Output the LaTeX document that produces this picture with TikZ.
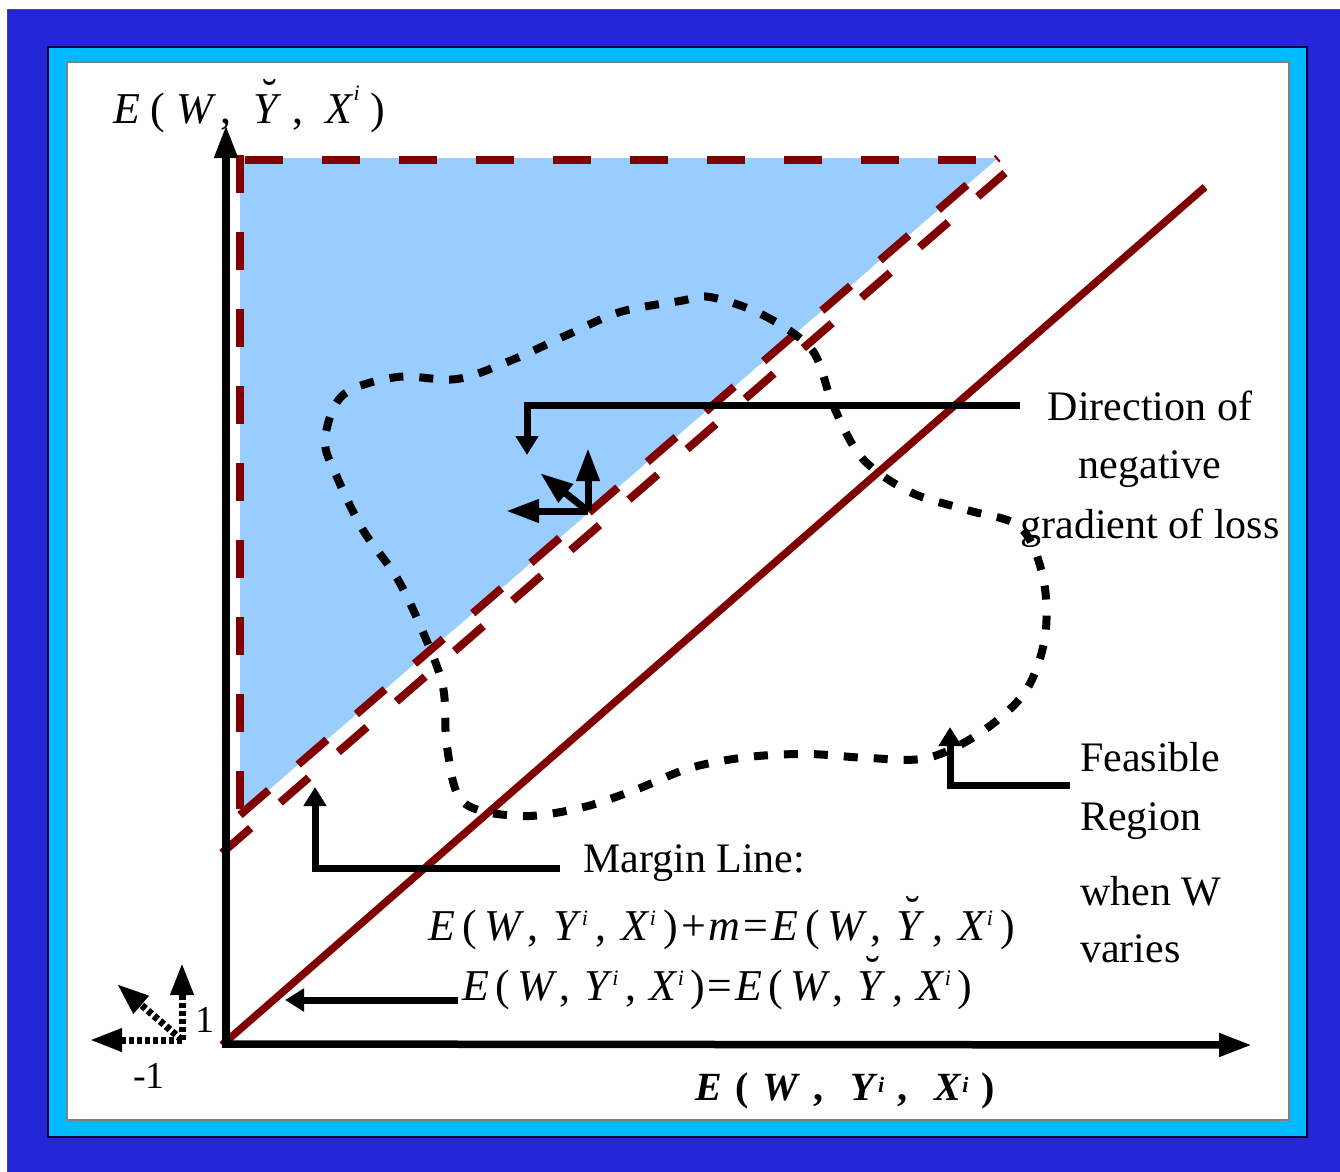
\documentclass[tikz,border=0pt]{standalone}
\usepackage{fontspec}
\setmainfont{Liberation Serif}
\usetikzlibrary{arrows.meta}
\definecolor{dkblue}{HTML}{2626D9}
\definecolor{cyanb}{HTML}{00BBFF}
\definecolor{fillblue}{HTML}{99CCFF}
\definecolor{dkred}{HTML}{800000}
\newcommand\brY{\ooalign{\textit{Y}\cr\hidewidth\raisebox{0.3em}{\kern0.08em\char"02D8}\hidewidth\cr}}
\newcommand\myi[1]{\raisebox{#1}{\fontsize{22}{22}\selectfont\textit{i}}}
\newcommand\gp{\hspace{0pt plus 1fil}}
\newcommand\Gp{\hspace{0pt plus 2fil}}
\newcommand\hp{\hspace{0pt plus 0.4fil}}
\begin{document}
\begin{tikzpicture}[x=1pt,y=-1pt,
  lbl/.style={inner sep=0pt,font=\fontsize{42}{50}\selectfont},
  flbl/.style={inner sep=0pt,font=\fontsize{44}{50}\selectfont},
  numlbl/.style={inner sep=0pt,font=\fontsize{38}{44}\selectfont},
  reddash/.style={draw=dkred,line width=8pt,dash pattern=on 38pt off 39pt},
  redline/.style={draw=dkred,line width=7.5pt},
  blob/.style={draw=black,line width=8pt,dash pattern=on 14pt off 16pt},
  axis/.style={draw=black,line width=7.5pt,-{Triangle[length=33pt,width=22pt]}},
  bigarr/.style={draw=black,line width=7pt,-{Triangle[length=33pt,width=22pt]}},
  smallarr/.style={draw=black,line width=7pt,-{Triangle[length=19pt,width=22pt]}},
  dotarr/.style={draw=black,line width=7pt,dash pattern=on 5pt off 3pt,-{Triangle[length=32pt,width=22pt]}}]
\useasboundingbox (0,0) rectangle (1340,1171);
\fill[white] (0,0) rectangle (1340,1171);
% frames
\filldraw[fill=dkblue,draw=black!70,line width=1pt] (7,9) rectangle (1342,1173);
\filldraw[fill=cyanb,draw=black!75!blue,line width=1.5pt] (48,47) rectangle (1307,1137);
\filldraw[fill=white,draw=gray,line width=1.5pt] (67,62) rectangle (1289,1120);
% blue region
\fill[fillblue] (240,158) -- (998,158) -- (240,815) -- cycle;
% coordinates
\coordinate (o) at (226,1044);
\coordinate (yend) at (226,125);
\coordinate (xend) at (1252,1045);
\coordinate (redend) at (1205,187);
\coordinate (m1a) at (240,815);
\coordinate (m1b) at (998,158);
\coordinate (m2a) at (222,853);
\coordinate (m2b) at (1005,173);
% red dashed margin lines
\draw[reddash] (240,155) -- (240,812);
\draw[reddash] (245,160) -- (998,160);
\draw[reddash] (m1a) -- (m1b);
\draw[reddash] (m2a) -- (m2b);
% solid red line
\draw[redline] (222,1045) -- (redend);
% feasible region
\draw[blob] plot[smooth cycle,tension=0.55] coordinates {
(710,297) (763,315) (812,350) (833,405) (862,458) (910,492) (967,510) (1020,527)
(1043,577) (1045,637) (1025,692) (980,733) (927,758) (868,758) (808,754) (748,757)
(690,768) (635,790) (580,808) (520,816) (463,802) (447,747) (443,687) (423,632)
(397,578) (363,530) (337,477) (325,440) (343,395) (397,377) (457,379) (512,360)
(567,335) (620,312) (680,301)};
% axes
\draw[axis] (226,1048) -- (yend);
\draw[axis] (222,1044) -- (xend);
% gradient arrows
\coordinate (g) at (588,511);
\coordinate (gup) at (588,448);
\coordinate (gleft) at (506,511);
\coordinate (gdiag) at (540,473);
\draw[bigarr] (g) -- (gup);
\draw[bigarr] (g) -- (gleft);
\draw[bigarr] (g) -- (gdiag);
% legend arrows
\coordinate (l) at (182,1040);
\coordinate (lup) at (182,963);
\coordinate (lleft) at (90,1040);
\coordinate (ldiag) at (117,984);
\draw[dotarr] (l) -- (lup);
\draw[dotarr] (l) -- (lleft);
\draw[dotarr] (l) -- (ldiag);
\node[numlbl,anchor=base west] (one) at (195,1032) {1};
\node[numlbl,anchor=base west] (mone) at (133,1088) {-1};
% texts
\node[flbl,anchor=base west] (ylab) at (113,123) {\makebox[272pt][s]{\textit{E}\gp(\gp\textit{W}\hp,\Gp\brY\gp,\Gp\textit{X}\myi{23pt}\gp)}};
\node[inner sep=0pt,font=\fontsize{40}{44}\selectfont\bfseries,anchor=base west] (xlab) at (695,1100) {\makebox[300pt][s]{\textit{E}\gp(\gp\textit{W}\gp,\Gp\textit{Y}\myi{8pt}\gp,\Gp\textit{X}\myi{8pt}\gp)}};
\node[lbl,anchor=base] (dir1) at (1150,420) {Direction of};
\node[lbl,anchor=base] (dir2) at (1150,478) {negative};
\node[lbl,anchor=base] (dir3) at (1150,538) {gradient of loss};
\node[lbl,anchor=base west] (fr1) at (1080,771) {Feasible};
\node[lbl,anchor=base west] (fr2) at (1080,830) {Region};
\node[lbl,anchor=base west] (fr3) at (1080,905) {when W};
\node[lbl,anchor=base west] (fr4) at (1080,962) {varies};
\node[lbl,anchor=base west] (ml) at (583,872) {Margin Line:};
\node[flbl,anchor=base west] (f1) at (428,940) {\makebox[587pt][s]{\textit{E}\gp(\gp\textit{W}\hp,\Gp\textit{Y}\myi{15pt}\gp,\Gp\textit{X}\myi{15pt}\gp)\hp+\hp\textit{m}\hp=\hp\textit{E}\gp(\gp\textit{W}\hp,\Gp\brY\gp,\Gp\textit{X}\myi{15pt}\gp)}};
\node[flbl,anchor=base west] (f2) at (462,1000) {\makebox[510pt][s]{\textit{E}\gp(\gp\textit{W}\hp,\Gp\textit{Y}\myi{15pt}\gp,\Gp\textit{X}\myi{15pt}\gp)\hp=\hp\textit{E}\gp(\gp\textit{W}\hp,\Gp\brY\gp,\Gp\textit{X}\myi{15pt}\gp)}};
% connectors
\coordinate (dirstart) at (1020,405);
\coordinate (dirtip) at (527,455);
\draw[smallarr] (dirstart) -| (dirtip);
\coordinate (mlstart) at (560,868);
\coordinate (mltip) at (315,787);
\draw[smallarr] (mlstart) -| (mltip);
\coordinate (frstart) at (1070,785);
\coordinate (frtip) at (950,727);
\draw[smallarr] (frstart) -| (frtip);
\coordinate (eqstart) at (458,1000);
\coordinate (eqtip) at (285,1000);
\draw[smallarr] (eqstart) -- (eqtip);
\end{tikzpicture}
\end{document}
